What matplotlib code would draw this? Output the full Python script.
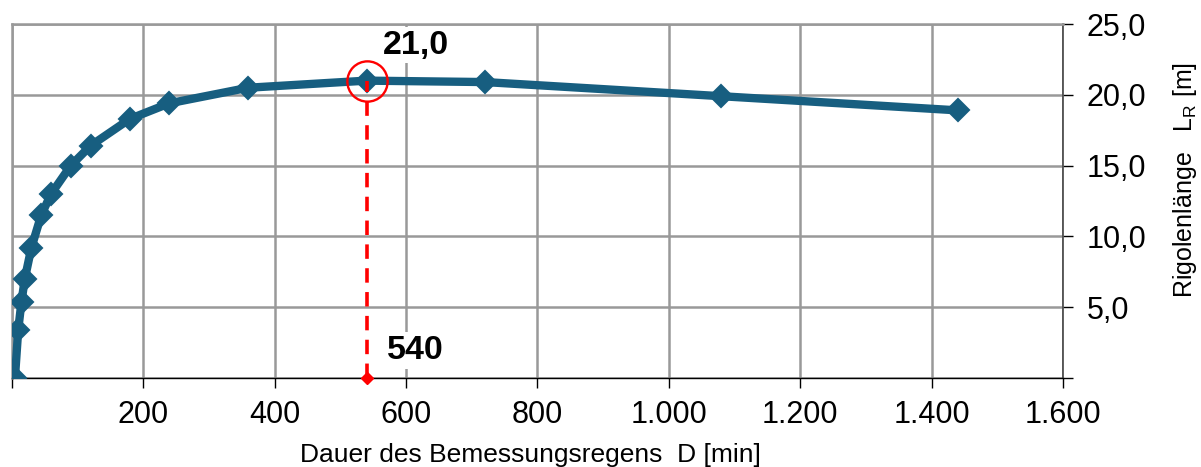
import numpy as np
import matplotlib
matplotlib.use('Agg')
import matplotlib.pyplot as plt
from matplotlib.ticker import FuncFormatter

plt.rcParams['font.family'] = ['Liberation Sans', 'DejaVu Sans']

# Dauer D [min] und Rigolenlaenge L_R [m]
dauer = [5, 10, 15, 20, 30, 45, 60, 90, 120, 180, 240, 360, 540, 720, 1080, 1440]
laenge = [0.0, 3.4, 5.4, 7.0, 9.2, 11.5, 13.0, 15.0, 16.4, 18.3, 19.4, 20.5, 21.0, 20.9, 19.9, 18.9]
d_max = 540
l_max = 21.0

blue = '#175e80'
red = '#ff0000'

fig = plt.figure(figsize=(12.01, 4.67), dpi=100)
ax = fig.add_axes([0.0097, 0.1906, 0.8755, 0.758])

ax.plot(dauer, laenge, '-', color=blue, lw=6, marker='D', ms=11.5,
        mfc=blue, mec=blue, mew=1.5, zorder=3, solid_joinstyle='round')

# Maximum markieren
ax.plot([d_max, d_max], [0, l_max], color=red, lw=2.6, ls=(0, (4, 2.6)), zorder=4)
ax.plot([d_max], [0], 'D', color=red, ms=6.5, zorder=5, clip_on=False)
ax.plot([d_max], [l_max], 'o', ms=29, mfc='none', mec=red, mew=1.7, zorder=5)

bbox = dict(facecolor='white', edgecolor='none', pad=2)
ax.text(d_max + 75, l_max + 2.5, '21,0', fontsize=24.5, fontweight='bold',
        ha='center', va='center', bbox=bbox, zorder=6)
ax.text(d_max + 75, 1.95, '540', fontsize=24.5, fontweight='bold',
        ha='center', va='center', bbox=bbox, zorder=6)

ax.set_xlim(0, 1600)
ax.set_ylim(0, 25)
ax.set_xticks(np.arange(0, 1601, 200))
ax.set_yticks(np.arange(0, 25.1, 5))


def fmt_x(v, pos):
    if v == 0:
        return ''
    return f'{int(v):,}'.replace(',', '.')


def fmt_y(v, pos):
    if v == 0:
        return ''
    return f'{v:.1f}'.replace('.', ',')


ax.xaxis.set_major_formatter(FuncFormatter(fmt_x))
ax.yaxis.set_major_formatter(FuncFormatter(fmt_y))
ax.yaxis.tick_right()
ax.yaxis.set_label_position('right')

ax.tick_params(axis='x', direction='out', length=7, width=1, pad=9,
               labelsize=22, color='black')
ax.tick_params(axis='y', direction='out', length=7, width=1, pad=10,
               labelsize=22, color='black')

ax.grid(True, color='#999999', lw=1.8, zorder=0)
ax.set_axisbelow(True)

ax.spines['bottom'].set_color('black')
ax.spines['bottom'].set_linewidth(1)
ax.spines['right'].set_color('#444444')
ax.spines['right'].set_linewidth(1.2)
ax.spines['left'].set_color('#999999')
ax.spines['left'].set_linewidth(1.8)
ax.spines['top'].set_color('#999999')
ax.spines['top'].set_linewidth(1.8)

xl = ax.set_xlabel('Dauer des Bemessungsregens  D [min]', fontsize=19)
xl.set_va('center')
ax.xaxis.set_label_coords(0.493, -0.218)
yl = ax.set_ylabel('Rigolenlänge   L$_\\mathregular{R}$ [m]', fontsize=18)
yl.set_va('center')
yl.set_ha('center')
ax.yaxis.set_label_coords(1.116, 0.56)

fig.savefig('out.png', dpi=100)
